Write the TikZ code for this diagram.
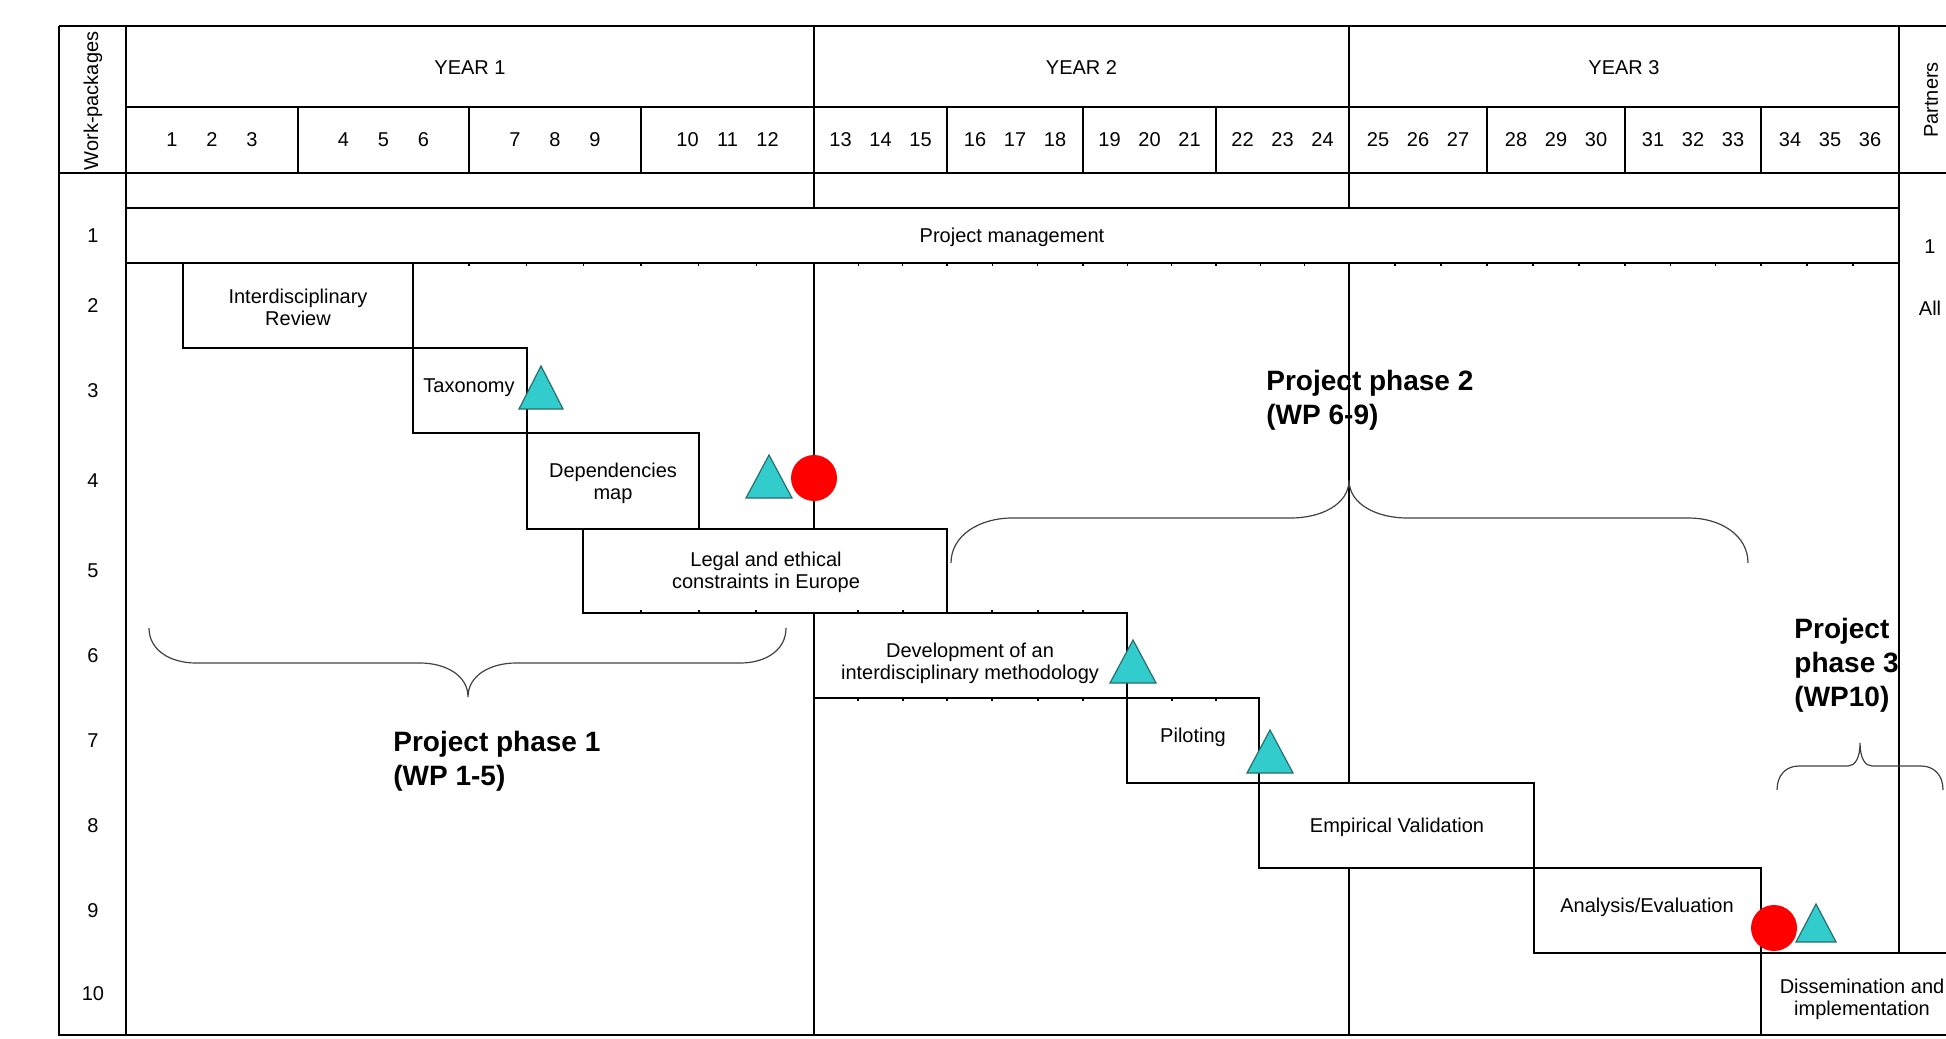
\documentclass[tikz,border=0pt]{standalone}
\usepackage{fontspec}
\setmainfont{Liberation Sans}
\usepackage{xcolor}
\definecolor{msfill}{RGB}{51,204,204}
\definecolor{msline}{RGB}{40,110,110}

\tikzset{
	grid/.style={line width=0.9pt},
	bar/.style={draw,fill=white,line width=0.9pt},
	task/.style={font=\fontsize{10}{11}\selectfont,align=center,inner sep=0pt},
	phase/.style={font=\fontsize{14}{17}\selectfont\bfseries,align=left,anchor=west,inner sep=0pt},
	tickmark/.style={line width=0.8pt},
	brace/.style={line width=0.6pt,black!75},
	milestone/.style={draw=msline,fill=msfill,line width=0.6pt},
	gate/.style={fill=red}
}

\begin{document}
\begin{tikzpicture}[x=0.5pt,y=-0.5pt]
		\clip(0,0)rectangle(1946,1038);
		% frame
		\draw[grid](59,26)--(1946,26);
		\draw[grid](59,26)--(59,1035)--(1946,1035);
		\draw[grid](126,26)--(126,1035);
		\draw[grid](59,173)--(1946,173);
		\draw[grid](126,107)--(1899,107);
		\draw[grid](126,208)--(1899,208);
		\draw[grid](126,263)--(1899,263);
		\draw[grid](814,26)--(814,1035);
		\draw[grid](1349,26)--(1349,1035);
		\draw[line width=1.3pt](1899,26)--(1899,953);
		% years, quarters, months
		\foreach \a/\b [count=\y] in {126/814,814/1349,1349/1899}
			\node[task](year\y) at ({(\a+\b)/2},68){YEAR \y};
		\foreach \a/\b [count=\q from 0] in {126/298,298/469,469/641,641/814,814/947,947/1083,1083/1216,1216/1349,1349/1487,1487/1625,1625/1761,1761/1899}{
			\draw[grid](\a,107)--(\a,173);
			\foreach \k in {1,2,3}{
				\pgfmathtruncatemacro\m{3*\q+\k}
				\node[task](m\m) at ({(\a+\b)/2+40*(\k-2)},140){\m};
				\draw[tickmark]({\a+(\b-\a)*\k/3},263)--++(0,3);
			}
		}
		% work-package column
		\node[task,rotate=90](wplabel) at (93,101){Work-packages};
		\foreach \n/\t/\b in {1/208/263,2/263/348,3/348/433,4/433/529,5/529/613,6/613/698,7/698/783,8/783/868,9/868/953,10/953/1035}
			\node[task](wp\n) at (93,{(\t+\b)/2}){\n};
		% partners column
		\node[task,rotate=90](partlabel) at (1931,100){Partners};
		\node[task](p1) at (1930,247){1};
		\node[task](pall) at (1930,308){All};
		% bars
		\draw[bar](126,208)rectangle(1899,263);
		\node[task](pm) at (1012,237){Project management};
		\draw[bar](183,263)rectangle(413,348);
		\node[task](review) at (298,307){Interdisciplinary\\Review};
		\draw[bar](413,348)rectangle(527,433);
		\node[task](taxonomy) at (469,388){Taxonomy};
		\draw[bar](527,433)rectangle(699,529);
		\node[task](depmap) at (613,483){Dependencies\\map};
		\draw[bar](583,529)rectangle(947,613);
		\node[task](legal) at (766,572){Legal and ethical\\constraints in Europe};
		\draw[bar](814,613)rectangle(1127,698);
		\node[task](method) at (970,663){Development of an\\interdisciplinary methodology};
		\draw[bar](1127,698)rectangle(1259,783);
		\node[task](piloting) at (1193,737){Piloting};
		\draw[bar](1259,783)rectangle(1534,868);
		\node[task](validation) at (1397,827){Empirical Validation};
		\draw[bar](1534,868)rectangle(1761,953);
		\node[task](analysis) at (1647,907){Analysis/Evaluation};
		\draw[bar](1761,953)rectangle(1966,1035);
		\node[task](dissem) at (1862,999){Dissemination and\\implementation};
		\foreach \x in {641,699,756,858,903,947,992,1038,1083}
			\draw[tickmark](\x,613)--++(0,-3);
		\foreach \x in {858,903,947,992,1038,1083,1172,1216}
			\draw[tickmark](\x,698)--++(0,3);
		% milestones
		\draw[milestone](541,366)--++(-22,43)--++(44,0)--cycle;
		\draw[milestone](769,455)--++(-23,43)--++(46,0)--cycle;
		\draw[milestone](1133,640)--++(-23,43)--++(46,0)--cycle;
		\draw[milestone](1270,730)--++(-23,43)--++(46,0)--cycle;
		\draw[milestone](1816,904)--++(-20,38)--++(40,0)--cycle;
		\fill[gate](814,478)circle[radius=23];
		\fill[gate](1774,928)circle[radius=23];
		% phases
		\draw[brace](149,628)..controls(149,650)and(170,663)..(196,663)--(420,663)
			..controls(445,663)and(468,675)..(468,697)..controls(468,675)and(491,663)..(516,663)
			--(740,663)..controls(766,663)and(786,650)..(786,628);
		\draw[brace](951,563)..controls(951,535)and(980,518)..(1012,518)--(1291,518)
			..controls(1320,518)and(1349,505)..(1349,480)..controls(1349,505)and(1378,518)..(1407,518)
			--(1689,518)..controls(1720,518)and(1748,535)..(1748,563);
		\draw[brace](1777,790)..controls(1777,775)and(1786,766)..(1799,766)--(1848,766)
			..controls(1855,766)and(1860,758)..(1860,743)..controls(1860,758)and(1865,766)..(1872,766)
			--(1921,766)..controls(1934,766)and(1943,775)..(1943,790);
		\node[phase](phase1) at (393,761){Project phase 1\\(WP 1-5)};
		\node[phase](phase2) at (1266,400){Project phase 2\\(WP 6-9)};
		\node[phase](phase3) at (1794,665){Project\\phase 3\\(WP10)};
		\end{tikzpicture}
\end{document}
